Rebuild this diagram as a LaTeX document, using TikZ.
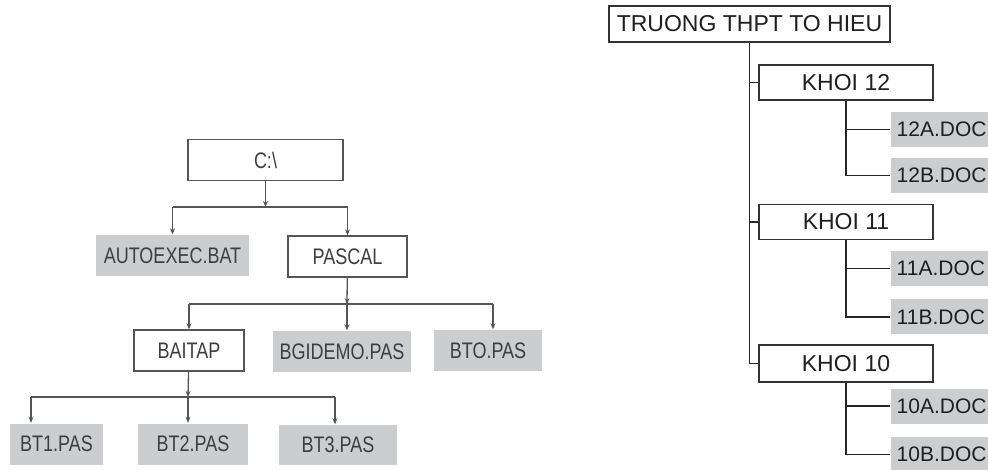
\documentclass[tikz,border=0pt]{standalone}
\usepackage{fontspec}
\setmainfont{Liberation Sans}
\newfontfamily\narrowfont[FakeStretch=0.8]{Liberation Sans}
\usetikzlibrary{arrows.meta}
\definecolor{filegray}{RGB}{204,205,207}
\definecolor{linegray}{RGB}{85,85,85}
\definecolor{inkgray}{RGB}{62,62,62}

\begin{document}
\begin{tikzpicture}[x=1pt, y=-1pt, >={Stealth[length=6pt,width=5pt]},
  dir/.style={draw=linegray, line width=1.4pt, fill=white, inner sep=0pt, minimum height=41pt, font=\narrowfont\fontsize{22.5}{24}\selectfont, text=inkgray},
  file/.style={dir, draw=none, fill=filegray},
  link/.style={linegray, line width=1.3pt},
  khoi/.style={draw=black!80, line width=1.4pt, fill=white, inner sep=0pt, minimum height=35pt, font=\fontsize{23}{26}\selectfont, text=black!88},
  doc/.style={khoi, draw=none, fill=filegray, anchor=west, inner xsep=6pt, font=\fontsize{21}{24}\selectfont},
  branch/.style={black!85, line width=1.5pt}]

			\useasboundingbox (0,0) rectangle (988,470);

			% left tree
			\node[dir, minimum width=155pt] (c) at (265.5,160) {C:\textbackslash};
			\node[file, minimum width=153pt] (autoexec) at (172.5,255.5) {AUTOEXEC.BAT};
			\node[dir, minimum width=119pt] (pascal) at (347.5,256.5) {PASCAL};
			\node[dir, minimum width=110pt] (baitap) at (189,350.5) {BAITAP};
			\node[file, minimum width=138pt] (bgidemo) at (342,351.5) {BGIDEMO.PAS};
			\node[file, minimum width=108pt] (bto) at (488,350.5) {BTO.PAS};
			\node[file, minimum width=93pt] (bt1) at (56.5,444) {BT1.PAS};
			\node[file, minimum width=110pt] (bt2) at (193,444) {BT2.PAS};
			\node[file, minimum width=118pt, minimum height=40pt] (bt3) at (338,445) {BT3.PAS};

			\coordinate (cbus) at (265.5,207);
			\coordinate (pbus) at (347,304);
			\coordinate (pbusr) at (493,304);
			\coordinate (bbusl) at (31,397);
			\coordinate (bbus) at (188,397);
			\coordinate (bbusr) at (335,397);

			\draw[link,->] (c) -- (cbus);
			\draw[link] (autoexec.north |- cbus) -- (pascal.north |- cbus);
			\draw[link,->] (autoexec.north |- cbus) -- (autoexec.north);
			\draw[link,->] (pascal.north |- cbus) -- (pascal.north);

			\draw[link,->] (pascal) -- (pbus);
			\draw[link] (baitap.north |- pbus) -- (pbusr);
			\draw[link,->] (baitap.north |- pbus) -- (baitap.north);
			\draw[link,->] (pbus) -- (pbus |- bgidemo.north);
			\draw[link,->] (pbusr) -- (pbusr |- bto.north);

			\draw[link,->] (baitap) -- (bbus);
			\draw[link] (bbusl) -- (bbusr);
			\draw[link,->] (bbusl) -- (bbusl |- bt1.north);
			\draw[link,->] (bbus) -- (bbus |- bt2.north);
			\draw[link,->] (bbusr) -- (bbusr |- bt3.north);

			% right tree
			\node[khoi, minimum width=281pt, minimum height=36pt] (school) at (749.5,24) {TRUONG THPT TO HIEU};
			\node[khoi, minimum width=174pt] (k12) at (846,82.5) {KHOI 12};
			\node[khoi, minimum width=174pt] (k11) at (846,222) {KHOI 11};
			\node[khoi, minimum width=174pt, minimum height=37pt] (k10) at (846,363.5) {KHOI 10};
			\node[doc] (d12a) at (890,129.5) {12A.DOC};
			\node[doc] (d12b) at (890,175.5) {12B.DOC};
			\node[doc] (d11a) at (890,268.5) {11A.DOC};
			\node[doc] (d11b) at (890,317) {11B.DOC};
			\node[doc] (d10a) at (890,406) {10A.DOC};
			\node[doc] (d10b) at (890,454.5) {10B.DOC};

			\draw[branch] (school.south) |- (k10.west);
			\draw[branch] (school.south |- k12.west) -- (k12.west);
			\draw[branch] (school.south |- k11.west) -- (k11.west);
			\draw[branch] (k12.south) |- (d12b.west);
			\draw[branch] (k12.south |- d12a.west) -- (d12a.west);
			\draw[branch] (k11.south) |- (d11b.west);
			\draw[branch] (k11.south |- d11a.west) -- (d11a.west);
			\draw[branch] (k10.south) |- (d10b.west);
			\draw[branch] (k10.south |- d10a.west) -- (d10a.west);

			\end{tikzpicture}
\end{document}
